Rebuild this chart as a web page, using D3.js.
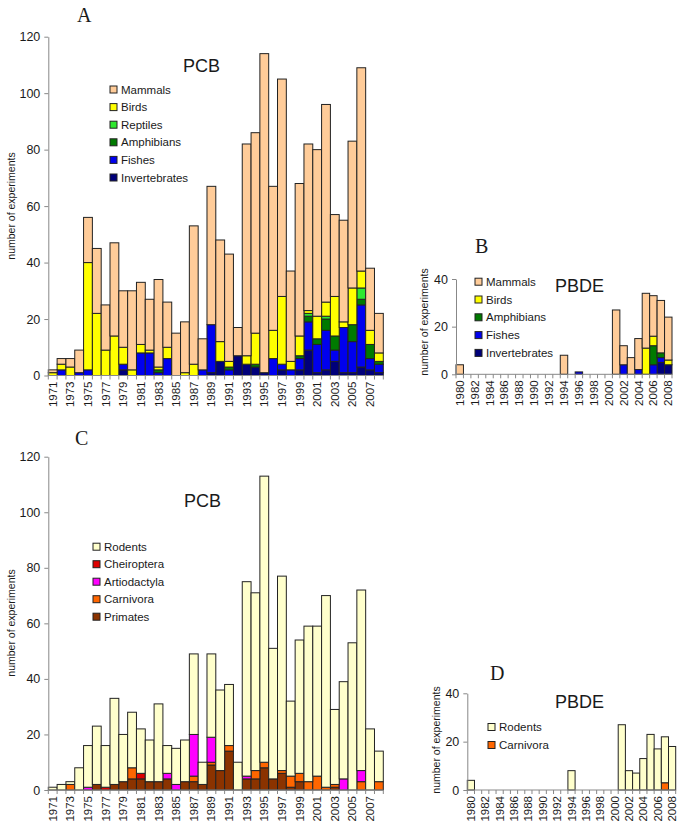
<!DOCTYPE html>
<html>
<head>
<meta charset="utf-8">
<script src="https://cdn.jsdelivr.net/npm/d3@7"></script>
<style>
  body { margin: 0; background: #fff; }
  svg text { font-family: "Liberation Sans", Arial, sans-serif; fill: #1a1a1a; }
</style>
</head>
<body>
<svg id="chart" width="685" height="836"></svg>
<script>
// years
let yearsPCB = [1971, 1972, 1973, 1974, 1975, 1976, 1977, 1978, 1979, 1980,
  1981, 1982, 1983, 1984, 1985, 1986, 1987, 1988, 1989, 1990,
  1991, 1992, 1993, 1994, 1995, 1996, 1997, 1998, 1999, 2000,
  2001, 2002, 2003, 2004, 2005, 2006, 2007, 2008]
let yearsPBDE = [1980, 1981, 1982, 1983, 1984, 1985, 1986, 1987, 1988, 1989,
  1990, 1991, 1992, 1993, 1994, 1995, 1996, 1997, 1998, 1999,
  2000, 2001, 2002, 2003, 2004, 2005, 2006, 2007, 2008]

// tick labels
let labelsPCB = [1971, 1973, 1975, 1977, 1979, 1981, 1983, 1985, 1987, 1989,
  1991, 1993, 1995, 1997, 1999, 2001, 2003, 2005, 2007]
let labelsPBDE = [1980, 1982, 1984, 1986, 1988, 1990, 1992, 1994, 1996, 1998,
  2000, 2002, 2004, 2006, 2008]
let ticksPCB = [0, 20, 40, 60, 80, 100, 120]
let ticksPBDE = [0, 20, 40]

// A: PCB, all taxa
let aInvertebrates = [0, 0, 0, 0, 0, 0, 0, 0, 2, 0, 0, 0, 0, 0, 0, 0, 0, 0, 1, 5,
  0, 7, 4, 3, 1, 0, 2, 0, 2, 9, 1, 2, 5, 1, 1, 3, 2, 1]
let aFishes = [0, 2, 0, 1, 2, 0, 0, 0, 2, 0, 8, 8, 1, 6, 0, 0, 0, 2, 17, 0,
  2, 0, 0, 0, 0, 6, 2, 2, 4, 10, 10, 14, 4, 16, 11, 22, 4, 3]
let aAmphibians = [0, 0, 0, 0, 0, 0, 0, 0, 0, 0, 0, 0, 1, 0, 0, 0, 0, 0, 0, 0,
  1, 0, 0, 1, 0, 0, 0, 0, 1, 2, 2, 4, 5, 0, 6, 2, 5, 1]
let aReptiles = [0, 0, 0, 0, 0, 0, 0, 0, 0, 0, 0, 0, 0, 0, 0, 0, 0, 0, 0, 0,
  0, 0, 0, 0, 0, 0, 0, 0, 0, 1, 0, 1, 0, 0, 0, 4, 0, 0]
let aBirds = [1, 2, 3, 0, 38, 22, 9, 14, 6, 2, 3, 1, 1, 4, 0, 1, 4, 0, 0, 7,
  2, 0, 3, 11, 0, 10, 24, 3, 7, 1, 8, 5, 14, 2, 13, 6, 5, 3]
let aMammals = [1, 2, 3, 8, 16, 23, 16, 33, 20, 28, 22, 18, 31, 16, 15, 18, 49, 11, 49, 36,
  38, 10, 75, 71, 113, 51, 77, 32, 54, 59, 59, 70, 29, 36, 52, 72, 22, 14]

// B: PBDE, all taxa
let bInvertebrates = [0, 0, 0, 0, 0, 0, 0, 0, 0, 0, 0, 0, 0, 0, 0, 0, 0, 0, 0, 0,
  0, 0, 0, 0, 0, 0, 0, 5, 4]
let bFishes = [0, 0, 0, 0, 0, 0, 0, 0, 0, 0, 0, 0, 0, 0, 0, 0, 1, 0, 0, 0,
  0, 0, 4, 0, 2, 0, 4, 2, 0]
let bAmphibians = [0, 0, 0, 0, 0, 0, 0, 0, 0, 0, 0, 0, 0, 0, 0, 0, 0, 0, 0, 0,
  0, 0, 0, 0, 0, 0, 8, 2, 0]
let bBirds = [0, 0, 0, 0, 0, 0, 0, 0, 0, 0, 0, 0, 0, 0, 0, 0, 0, 0, 0, 0,
  0, 0, 0, 0, 0, 11, 4, 0, 2]
let bMammals = [4, 0, 0, 0, 0, 0, 0, 0, 0, 0, 0, 0, 0, 0, 8, 0, 0, 0, 0, 0,
  0, 27, 8, 7, 13, 23, 17, 22, 18]

// C: PCB, mammal orders
let cPrimates = [0, 0, 0, 0, 0, 2, 0, 2, 3, 4, 4, 3, 3, 4, 0, 3, 3, 2, 9, 7,
  14, 0, 4, 4, 8, 4, 6, 1, 3, 0, 0, 0, 1, 0, 0, 0, 0, 0]
let cCarnivora = [0, 0, 2, 0, 0, 0, 0, 0, 0, 4, 0, 0, 0, 0, 0, 0, 2, 0, 1, 0,
  2, 0, 0, 3, 2, 0, 1, 4, 3, 3, 5, 1, 1, 0, 0, 3, 0, 3]
let cArtiodactyla = [0, 0, 0, 0, 1, 0, 0, 0, 0, 0, 0, 0, 0, 2, 2, 0, 15, 0, 9, 0,
  0, 0, 1, 0, 0, 0, 0, 0, 0, 0, 0, 0, 0, 4, 0, 4, 0, 0]
let cCheiroptera = [0, 0, 0, 0, 0, 0, 1, 0, 0, 0, 2, 0, 0, 0, 0, 0, 0, 0, 0, 0,
  0, 0, 0, 0, 0, 0, 0, 0, 0, 0, 0, 0, 0, 0, 0, 0, 0, 0]
let cRodents = [1, 2, 1, 8, 15, 21, 15, 31, 17, 20, 16, 15, 28, 10, 13, 15, 29, 8, 30, 29,
  22, 10, 70, 64, 103, 47, 70, 27, 48, 56, 54, 69, 27, 35, 53, 65, 22, 11]

// D: PBDE, mammal orders
let dCarnivora = [0, 0, 0, 0, 0, 0, 0, 0, 0, 0, 0, 0, 0, 0, 0, 0, 0, 0, 0, 0,
  0, 0, 0, 0, 0, 0, 0, 3, 0]
let dRodents = [4, 0, 0, 0, 0, 0, 0, 0, 0, 0, 0, 0, 0, 0, 8, 0, 0, 0, 0, 0,
  0, 27, 8, 7, 13, 23, 17, 19, 18]

let colors = {
  Mammals: '#ffcc99',
  Birds: '#ffff00',
  Reptiles: '#2ee82e',
  Amphibians: '#007a00',
  Fishes: '#0000ee',
  Invertebrates: '#00007a',
  Rodents: '#ffffcc',
  Cheiroptera: '#dd0000',
  Artiodactyla: '#ff00ff',
  Carnivora: '#ff6600',
  Primates: '#8b3300'
}

let svg = d3.select('#chart')

function drawPanel(p) {
  let g = svg.append('g')

  // stacking order bottom -> top, legend is drawn reversed
  let keys = p.series.map(s => s[0])
  let rows = p.years.map((yr, i) => {
    let r = { year: yr }
    p.series.forEach(s => { r[s[0]] = s[1][i] })
    return r
  })
  let stacked = d3.stack().keys(keys)(rows)

  let x = d3.scaleBand().domain(p.years).range([p.left, p.right]).padding(0)
  let y = d3.scaleLinear().domain([0, p.max]).range([p.bottom, p.top])

  // bars
  g.selectAll('g.layer')
    .data(stacked)
    .enter()
    .append('g')
    .attr('class', 'layer')
    .attr('fill', d => colors[d.key])
    .selectAll('rect')
    .data(d => d.filter(v => v[1] - v[0] > 0))
    .enter()
    .append('rect')
    .attr('x', d => x(d.data.year))
    .attr('y', d => y(d[1]))
    .attr('width', x.bandwidth())
    .attr('height', d => y(d[0]) - y(d[1]))
    .attr('stroke', '#222')
    .attr('stroke-width', 1)

  // y axis
  let yAxis = g.append('g')
    .attr('transform', 'translate(' + p.left + ',0)')
    .call(d3.axisLeft(y).tickValues(p.ticks).tickSize(4).tickSizeOuter(0).tickPadding(4))
  yAxis.select('.domain').attr('stroke', '#888')
  yAxis.selectAll('.tick line').attr('stroke', '#888')
  yAxis.selectAll('.tick text')
    .style('font-size', '12.5px')
    .style('font-family', '"Liberation Sans", Arial, sans-serif')
    .attr('fill', '#1a1a1a')

  // x axis: line, ticks at band edges, rotated year labels
  g.append('line')
    .attr('x1', p.left).attr('x2', p.right)
    .attr('y1', p.bottom).attr('y2', p.bottom)
    .attr('stroke', '#888')

  let edges = p.years.map(d => x(d)).concat([p.right])
  g.selectAll('line.xt')
    .data(edges)
    .enter()
    .append('line')
    .attr('class', 'xt')
    .attr('x1', d => d).attr('x2', d => d)
    .attr('y1', p.bottom).attr('y2', p.bottom + 4)
    .attr('stroke', '#888')

  g.selectAll('text.yr')
    .data(p.labels)
    .enter()
    .append('text')
    .attr('class', 'yr')
    .attr('transform', d => 'translate(' + (x(d) + x.bandwidth() / 2) + ',' + (p.bottom + 6) + ') rotate(-90)')
    .attr('dy', '0.35em')
    .attr('text-anchor', 'end')
    .style('font-size', '11.5px')
    .text(d => d)

  // y axis title
  g.append('text')
    .attr('transform', 'translate(' + p.yTitleX + ',' + p.yTitleY + ') rotate(-90)')
    .attr('text-anchor', 'middle')
    .attr('dy', '0.35em')
    .style('font-size', '10.5px')
    .text('number of experiments')

  // panel letter and title
  g.append('text')
    .attr('x', p.letterX).attr('y', p.letterY)
    .style('font-family', '"Liberation Serif", "Times New Roman", serif')
    .style('font-size', '20px')
    .text(p.letter)

  g.append('text')
    .attr('x', p.titleX).attr('y', p.titleY)
    .style('font-size', '18px')
    .text(p.title)

  // legend
  let leg = g.selectAll('g.leg')
    .data(keys.slice().reverse())
    .enter()
    .append('g')
    .attr('class', 'leg')
    .attr('transform', (d, i) => 'translate(' + p.legX + ',' + (p.legY + i * p.legStep) + ')')

  leg.append('rect')
    .attr('x', 0).attr('y', -3.5)
    .attr('width', 7).attr('height', 7)
    .attr('fill', d => colors[d])
    .attr('stroke', '#222')
    .attr('stroke-width', 1)

  leg.append('text')
    .attr('x', 11)
    .attr('dy', '0.35em')
    .style('font-size', '11.5px')
    .text(d => d)
}

drawPanel({
  years: yearsPCB, labels: labelsPCB, ticks: ticksPCB, max: 120,
  series: [['Invertebrates', aInvertebrates], ['Fishes', aFishes], ['Amphibians', aAmphibians],
    ['Reptiles', aReptiles], ['Birds', aBirds], ['Mammals', aMammals]],
  left: 48.3, right: 383.3, bottom: 375.5, top: 36.7,
  yTitleX: 11, yTitleY: 206,
  letter: 'A', letterX: 77, letterY: 22,
  title: 'PCB', titleX: 183, titleY: 72,
  legX: 110, legY: 89.5, legStep: 17.6
})

drawPanel({
  years: yearsPBDE, labels: labelsPBDE, ticks: ticksPBDE, max: 40,
  series: [['Invertebrates', bInvertebrates], ['Fishes', bFishes], ['Amphibians', bAmphibians],
    ['Birds', bBirds], ['Mammals', bMammals]],
  left: 456, right: 672, bottom: 374.3, top: 279,
  yTitleX: 424, yTitleY: 322,
  letter: 'B', letterX: 475, letterY: 253,
  title: 'PBDE', titleX: 555, titleY: 292,
  legX: 475, legY: 281.7, legStep: 17.8
})

drawPanel({
  years: yearsPCB, labels: labelsPCB, ticks: ticksPCB, max: 120,
  series: [['Primates', cPrimates], ['Carnivora', cCarnivora], ['Artiodactyla', cArtiodactyla],
    ['Cheiroptera', cCheiroptera], ['Rodents', cRodents]],
  left: 48.3, right: 383.3, bottom: 790, top: 456.7,
  yTitleX: 11, yTitleY: 623,
  letter: 'C', letterX: 75, letterY: 445,
  title: 'PCB', titleX: 184, titleY: 507,
  legX: 93, legY: 546.7, legStep: 17.5
})

drawPanel({
  years: yearsPBDE, labels: labelsPBDE, ticks: ticksPBDE, max: 40,
  series: [['Carnivora', dCarnivora], ['Rodents', dRodents]],
  left: 467.3, right: 675.7, bottom: 790, top: 693.3,
  yTitleX: 436, yTitleY: 740,
  letter: 'D', letterX: 490, letterY: 680,
  title: 'PBDE', titleX: 555, titleY: 708,
  legX: 488, legY: 727, legStep: 18
})
</script>
</body>
</html>
